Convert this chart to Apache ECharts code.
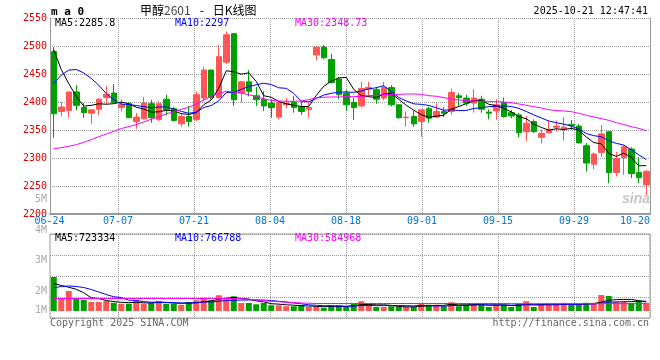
<!DOCTYPE html>
<html><head><meta charset="utf-8">
<script src="https://cdn.jsdelivr.net/npm/echarts@6/dist/echarts.min.js"></script>
<style>html,body{margin:0;padding:0;background:#fff}#c{width:660px;height:360px}</style>
</head><body><div id="c"></div>
<script>
const dates = ['06-24','06-25','06-26','06-27','06-30',
 '07-01','07-02','07-03','07-04','07-07','07-08','07-09','07-10','07-11','07-14','07-15','07-16','07-17','07-18','07-21','07-22','07-23','07-24','07-25','07-28','07-29','07-30','07-31',
 '08-01','08-04','08-05','08-06','08-07','08-08','08-11','08-12','08-13','08-14','08-15','08-18','08-19','08-20','08-21','08-22','08-25','08-26','08-27','08-28','08-29',
 '09-01','09-02','09-03','09-04','09-05','09-08','09-09','09-10','09-11','09-12','09-15','09-16','09-17','09-18','09-19','09-22','09-23','09-24','09-25','09-26','09-29','09-30',
 '10-09','10-10','10-13','10-14','10-15','10-16','10-17','10-20','10-21'];
const opens  = [2490,2383,2385,2418,2390,2380,2387,2408,2416,2390,2397,2365,2370,2397,2369,2405,2388,2361,2374,2369,
                2407,2457,2408,2471,2522,2416,2436,2411,2405,2398,2373,2395,2399,2391,2387,2484,2498,2476,2441,2416,
                2399,2393,2423,2422,2407,2426,2395,2372,2374,2365,2388,2373,2383,2383,2411,2407,2398,2405,2382,2384,
                2399,2381,2377,2347,2365,2337,2345,2355,2352,2360,2357,2322,2289,2310,2347,2274,2301,2316,2274,2252];
const closes = [2379,2391,2418,2394,2381,2386,2405,2414,2399,2395,2372,2373,2398,2372,2397,2386,2367,2374,2365,2413,
                2457,2408,2481,2520,2404,2436,2419,2404,2393,2390,2399,2398,2390,2383,2390,2498,2479,2435,2413,2395,
                2390,2424,2426,2405,2426,2395,2372,2373,2361,2386,2371,2383,2380,2417,2408,2398,2407,2387,2380,2395,
                2374,2375,2345,2362,2347,2344,2351,2357,2355,2358,2327,2291,2307,2343,2274,2299,2320,2272,2265,2276];
const lows   = [2336,2374,2372,2385,2372,2361,2377,2395,2397,2383,2371,2352,2369,2363,2366,2376,2365,2356,2356,2366,
                2401,2404,2406,2468,2393,2399,2410,2393,2384,2372,2369,2389,2381,2377,2372,2474,2476,2433,2405,2384,
                2368,2390,2410,2397,2403,2392,2370,2356,2356,2338,2363,2371,2373,2377,2392,2393,2381,2381,2369,2368,
                2372,2371,2337,2330,2345,2326,2344,2347,2331,2350,2326,2276,2280,2302,2255,2267,2270,2264,2255,2234];
const highs  = [2498,2400,2418,2430,2398,2387,2407,2429,2432,2405,2400,2380,2409,2404,2402,2413,2391,2379,2393,2419,
                2463,2458,2502,2526,2523,2437,2457,2427,2419,2405,2402,2407,2411,2401,2401,2498,2502,2486,2445,2422,
                2407,2436,2436,2426,2436,2430,2396,2383,2384,2387,2392,2398,2391,2424,2416,2413,2423,2411,2387,2405,
                2408,2386,2380,2375,2369,2351,2367,2367,2373,2368,2361,2327,2310,2359,2348,2311,2323,2319,2302,2279];
const volumes = [2720000,1040000,1600000,1040000,900000,720000,720000,800000,660000,580000,
                 580000,860000,580000,640000,800000,580000,580000,500000,720000,860000,
                 1060000,860000,1260000,1060000,1180000,640000,640000,540000,640000,460000,
                 460000,380000,380000,460000,320000,320000,260000,460000,460000,320000,
                 580000,780000,460000,320000,320000,380000,320000,320000,320000,580000,
                 500000,500000,380000,700000,380000,500000,580000,500000,320000,500000,
                 500000,320000,580000,780000,320000,540000,540000,540000,660000,480000,
                 480000,660000,660000,1280000,1200000,740000,740000,660000,820000,660000];
// first points of the moving averages (they depend on days before the window)
const ma5Head  = [2493,2458,2433,2410];
const ma10Head = [2433,2448,2457,2458,2452,2442,2430,2415,2404];
const ma30 = [2316.7,2318.5,2320.9,2323.8,2328.0,2332.8,2338.1,2342.9,2347.7,2352.4,
              2356.0,2359.6,2364.3,2369.1,2373.8,2378.6,2382.8,2386.9,2390.5,2396.5,
              2403.6,2409.6,2415.5,2419.0,2418.0,2416.0,2413.0,2410.0,2405.5,2403.0,
              2401.8,2401.2,2401.2,2401.8,2404.2,2407.2,2408.4,2409.0,2409.0,2409.6,
              2409.6,2410.2,2411.3,2411.9,2413.1,2413.7,2413.7,2414.3,2414.3,2413.7,
              2411.3,2410.2,2407.8,2405.4,2403.6,2402.4,2401.8,2401.2,2401.2,2400.6,
              2400.0,2398.8,2396.5,2394.1,2391.7,2389.3,2386.3,2384.6,2384.0,2382.8,
              2379.8,2376.2,2373.3,2370.3,2367.3,2363.1,2359.6,2356.0,2353.0,2348.73];
const volMa5Head  = [2200000,2040000,1900000,1740000];
const volMa10Head = [1860000,1960000,2000000,1960000,1880000,1720000,1520000,1320000,1140000];
const volMa30 = [1000000,1000000,1000000,1000000,1000000,1000000,1000000,1000000,1000000,1000000,
                 1000000,1000000,1000000,1000000,1000000,1000000,1000000,1000000,1000000,1000000,
                 1000000,1000000,1000000,1000000,1000000,980000,940000,880000,820000,780000,
                 740000,700000,670000,640000,620000,600000,600000,600000,600000,600000,
                 600000,600000,600000,600000,600000,600000,600000,600000,600000,600000,
                 600000,600000,600000,600000,600000,600000,600000,600000,600000,600000,
                 600000,590000,590000,590000,590000,590000,590000,590000,590000,590000,
                 590000,590000,590000,590000,590000,590000,590000,590000,590000,584968];
const dateTickLabels = ['06-24','07-07','07-21','08-04','08-18','09-01','09-15','09-29','10-20'];
const volTickLabels = ['5M','4M','3M','2M','1M'];
const priceLegend = ['MA5:2285.8','MA10:2297','MA30:2348.73'];
const volLegend = ['MA5:723334','MA10:766788','MA30:584968'];
const titleParts = ['甲醇','2601','-','日K线图'];
const headerLeft = 'm a 0';
const stamp = '2025-10-21 12:47:41';
const footLeft = 'Copyright 2025 SINA.COM';
const footRight = 'http://finance.sina.com.cn';

// ---------- layout / style ----------
const RED = '#ff5555', GREEN = '#00a000';
const MA_COLORS = ['#000000', '#0000ff', '#ff00ff'];
const MONO = '"DejaVu Sans Mono","Liberation Mono",monospace';
const GRIDC = '#9a9a9a';
const volLabelY = [199.5, 230, 260, 291, 310.5];

function sma(vals, n, head) {
  return vals.map((v, i) => {
    if (i < n - 1) return head[i];
    let s = 0; for (let k = i - n + 1; k <= i; k++) s += vals[k];
    return +(s / n).toFixed(2);
  });
}
const ma5 = sma(closes, 5, ma5Head), ma10 = sma(closes, 10, ma10Head);
const vma5 = sma(volumes, 5, volMa5Head), vma10 = sma(volumes, 10, volMa10Head);
const kdata = dates.map((d, i) => [opens[i], closes[i], lows[i], highs[i]]);
const vdata = volumes.map((v, i) => ({ value: v, itemStyle: { color: closes[i] >= opens[i] ? RED : GREEN } }));
const lineColors = ['rgba(0,0,0,0)', GRIDC, GRIDC, GRIDC, GRIDC, GRIDC, GRIDC, GRIDC, GRIDC];

function lineSeries(name, data, color, xi, yi) {
  return { name, type: 'line', data, xAxisIndex: xi, yAxisIndex: yi, showSymbol: false, symbol: 'none',
    lineStyle: { color, width: 1 }, silent: true, z: 3 };
}
function txt(text, x, y, fill, font, align) {
  return { type: 'text', silent: true, z: 10,
    style: { text, x, y, fill, font, textAlign: align || 'left', textVerticalAlign: 'middle' } };
}
const CJK = '12px "Noto Sans CJK SC"';
const graphics = [
  txt(headerLeft, 51, 12, '#000', 'bold 11px ' + MONO),
  { type: 'text', silent: true, z: 10, style: { x: 140, y: 10, textVerticalAlign: 'middle',
      rich: { c: { font: CJK, fill: '#000' }, n: { font: CJK, fill: '#444' },
              d: { font: CJK, fill: '#000', padding: [0, 9, 0, 9] } },
      text: '{c|' + titleParts[0] + '}{n|' + titleParts[1] + '}{d|' + titleParts[2] + '}{c|' + titleParts[3] + '}' } },
  txt(stamp, 648, 11.5, '#000', '10px ' + MONO, 'right'),
  txt(priceLegend[0], 55, 23.5, MA_COLORS[0], '10px ' + MONO),
  txt(priceLegend[1], 175, 23.5, MA_COLORS[1], '10px ' + MONO),
  txt(priceLegend[2], 295, 23.5, MA_COLORS[2], '10px ' + MONO),
  txt(volLegend[0], 55, 238.6, MA_COLORS[0], '10px ' + MONO),
  txt(volLegend[1], 175, 238.6, MA_COLORS[1], '10px ' + MONO),
  txt(volLegend[2], 295, 238.6, MA_COLORS[2], '10px ' + MONO),
  txt(footLeft, 50, 323.5, '#666', '10px ' + MONO),
  txt(footRight, 649, 323.5, '#666', '10px ' + MONO, 'right'),
  txt('sina', 622, 199, 'rgba(150,150,150,0.55)', 'italic bold 14px "Liberation Sans"')
].concat(volTickLabels.map((t, i) => txt(t, 47, volLabelY[i], '#aaaaaa', '10px ' + MONO, 'right')));

const option = {
  animation: false,
  backgroundColor: '#ffffff',
  grid: [
    { left: 50, top: 18, width: 600, height: 196 },
    { left: 50, top: 234, width: 600, height: 84, show: true, borderColor: GRIDC, borderWidth: 1, backgroundColor: 'transparent' },
    { left: 42, top: 18, width: 608, height: 196 },
    { left: 42, top: 234, width: 608, height: 84 }
  ],
  xAxis: [
    { type: 'category', gridIndex: 0, data: dates, boundaryGap: true,
      axisLine: { show: true, lineStyle: { color: GRIDC, width: 2 } }, axisTick: { show: false },
      axisLabel: { show: false }, splitLine: { show: false } },
    { type: 'category', gridIndex: 1, data: dates, boundaryGap: true,
      axisLine: { show: false }, axisTick: { show: false }, axisLabel: { show: false }, splitLine: { show: false } },
    { type: 'value', gridIndex: 2, min: 0, max: 608, interval: 76,
      axisLine: { show: false }, axisTick: { show: false },
      splitLine: { show: true, lineStyle: { color: lineColors, type: [1, 1], width: 1 } },
      axisLabel: { show: true, color: '#0077cc', fontFamily: MONO, fontSize: 10, margin: 2,
        showMinLabel: true, showMaxLabel: true, hideOverlap: false, alignMaxLabel: 'right',
        formatter: (v, i) => i === 0 ? '{s|' + dateTickLabels[0] + '}' : (dateTickLabels[i] || ''),
        rich: { s: { padding: [0, 0, 0, 15], color: '#0077cc', fontFamily: MONO, fontSize: 10 } } } },
    { type: 'value', gridIndex: 3, min: 0, max: 608, interval: 76,
      axisLine: { show: false }, axisTick: { show: false }, axisLabel: { show: false },
      splitLine: { show: true, lineStyle: { color: lineColors, type: [1, 1], width: 1 } } }
  ],
  yAxis: [
    { type: 'value', gridIndex: 0, min: 2200, max: 2550, interval: 50, position: 'left',
      axisLine: { show: true, lineStyle: { color: GRIDC } }, axisTick: { show: false },
      axisLabel: { color: '#e00000', fontFamily: MONO, fontSize: 10, margin: 3, padding: [0, 0, 5, 0],
        showMinLabel: true, showMaxLabel: true, formatter: v => String(v) },
      splitLine: { show: true, lineStyle: { color: GRIDC, type: [1, 1], width: 1 } } },
    { type: 'value', gridIndex: 0, min: 2200, max: 2550, position: 'right',
      axisLine: { show: true, lineStyle: { color: GRIDC } }, axisTick: { show: false },
      axisLabel: { show: false }, splitLine: { show: false } },
    { type: 'value', gridIndex: 1, min: -560000, max: 6160000,
      axisLine: { show: false }, axisTick: { show: false }, axisLabel: { show: false }, splitLine: { show: false } },
    { type: 'value', gridIndex: 1, min: 0, max: 4, interval: 1,
      axisLine: { show: false }, axisTick: { show: false }, axisLabel: { show: false },
      splitLine: { show: true, lineStyle: { color: GRIDC, type: [1, 1], width: 1 } } },
    { type: 'value', gridIndex: 2, show: false },
    { type: 'value', gridIndex: 3, show: false }
  ],
  series: [
    { name: 'K', type: 'candlestick', data: kdata, xAxisIndex: 0, yAxisIndex: 0, barWidth: 6, silent: true,
      itemStyle: { color: RED, color0: GREEN, borderColor: RED, borderColor0: GREEN, borderWidth: 1 } },
    lineSeries('MA5', ma5, MA_COLORS[0], 0, 0),
    lineSeries('MA10', ma10, MA_COLORS[1], 0, 0),
    lineSeries('MA30', ma30, MA_COLORS[2], 0, 0),
    { name: 'VOL', type: 'bar', data: vdata, xAxisIndex: 1, yAxisIndex: 2, barWidth: 6, silent: true },
    lineSeries('VMA5', vma5, MA_COLORS[0], 1, 2),
    lineSeries('VMA10', vma10, MA_COLORS[1], 1, 2),
    lineSeries('VMA30', volMa30, MA_COLORS[2], 1, 2)
  ],
  graphic: graphics
};
const chart = echarts.init(document.getElementById('c'), null, { renderer: 'canvas' });
chart.setOption(option);
</script>
</body></html>
